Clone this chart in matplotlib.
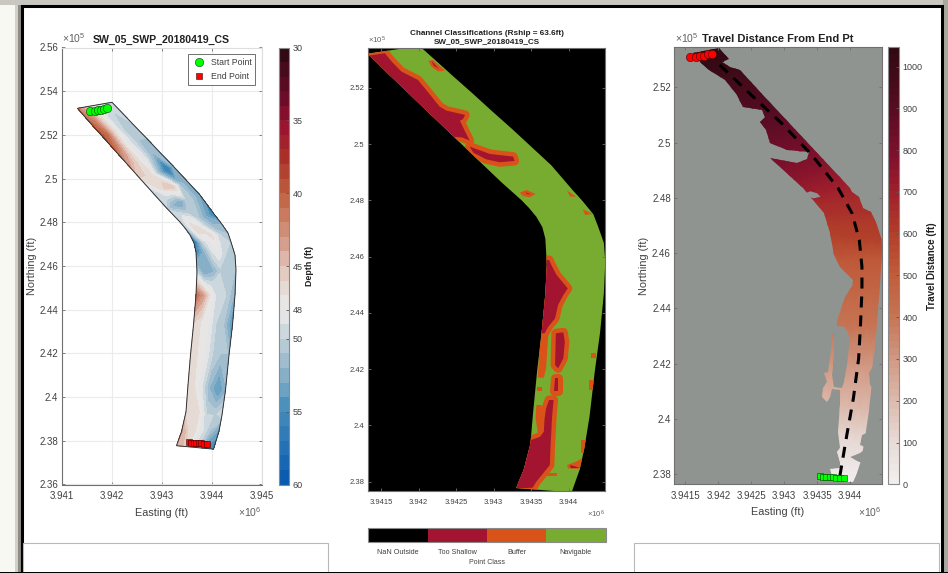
import numpy as np
import matplotlib
matplotlib.use("Agg")
import matplotlib.pyplot as plt
from matplotlib.patches import Polygon, Rectangle
from matplotlib.colors import ListedColormap, BoundaryNorm, LinearSegmentedColormap
from matplotlib.cm import ScalarMappable

plt.rcParams["font.family"] = ["Liberation Sans", "DejaVu Sans"]
plt.rcParams["mathtext.fontset"] = "custom"
plt.rcParams["mathtext.rm"] = "Liberation Sans"
plt.rcParams["mathtext.default"] = "regular"

# channel banks, easting in 1e6 ft and northing in 1e5 ft
west_e = [3.94132, 3.94157, 3.94181, 3.94207, 3.94233, 3.94257, 3.94283, 3.94311, 3.94337, 3.94347, 3.94357,
          3.94365, 3.94369, 3.94371, 3.94369, 3.94364, 3.94358, 3.94353, 3.94349, 3.94340, 3.94330]
west_n = [2.53217, 2.52558, 2.51950, 2.51281, 2.50622, 2.50005, 2.49341, 2.48632, 2.48014, 2.47739, 2.47419,
          2.47053, 2.46641, 2.45725, 2.44673, 2.43300, 2.41927, 2.40554, 2.39332, 2.38416, 2.37776]
east_e = [3.94201, 3.94221, 3.94245, 3.94271, 3.94297, 3.94325, 3.94351, 3.94377, 3.94405, 3.94419, 3.94433,
          3.94439, 3.94447, 3.94449, 3.94447, 3.94442, 3.94435, 3.94428, 3.94421, 3.94415, 3.94404]
east_n = [2.53492, 2.53016, 2.52439, 2.51826, 2.51195, 2.50531, 2.49890, 2.49249, 2.48380, 2.47968, 2.47510,
          2.47098, 2.46500, 2.45817, 2.44673, 2.43300, 2.41927, 2.40325, 2.39181, 2.38444, 2.37620]

# depth (ft), one row per bank station, west to east across the channel
depth = [
    [42, 44, 47, 48, 49, 50],
    [40, 42, 46, 49, 50, 50],
    [39, 41, 46, 49, 51, 50],
    [40, 43, 47, 49, 51, 51],
    [43, 45, 47, 49, 52, 52],
    [46, 46, 47, 52, 56, 51],
    [50, 47, 45, 45, 51, 53],
    [50, 52, 53, 50, 51, 53],
    [50, 47, 48, 51, 53, 55],
    [50, 46, 47, 50, 52, 52],
    [52, 47, 47, 47, 50, 51],
    [56, 50, 48, 47, 50, 50],
    [55, 52, 49, 48, 50, 51],
    [49, 53, 52, 50, 51, 51],
    [40, 43, 47, 50, 50, 52],
    [46, 47, 48, 50, 51, 54],
    [47, 47, 48, 50, 51, 51],
    [47, 47, 49, 52, 54, 52],
    [46, 47, 47, 50, 50, 49],
    [43, 46, 47, 49, 51, 53],
    [44, 45, 48, 50, 54, 55],
]
cross_pos = [0, 0.2, 0.4, 0.6, 0.8, 1]

# travel distance (ft) at the same stations
travel = [1046, 1020, 980, 940, 900, 860, 810, 760, 700, 670, 640, 615, 590, 520, 470, 400, 300, 200, 110, 50, 0]

start_e = [3.94157, 3.94166, 3.94172, 3.94178, 3.94184, 3.94190]
start_n = [2.5308, 2.5311, 2.5313, 2.5315, 2.5319, 2.5322]
end_e = [3.94354, 3.94359, 3.94364, 3.94369, 3.94374, 3.94379, 3.94384, 3.94390]
end_n = [2.3793, 2.3792, 2.3791, 2.3790, 2.3789, 2.3788, 2.3787, 2.3786]

route_e = [3.94202, 3.94250, 3.94296, 3.94342, 3.94382, 3.94403, 3.94414, 3.94418, 3.94418, 3.94416,
           3.94413, 3.94405, 3.94395, 3.94384]
route_n = [2.52807, 2.51721, 2.50698, 2.49551, 2.48346, 2.47441, 2.46475, 2.45509, 2.44667, 2.43520,
           2.42195, 2.40748, 2.39420, 2.37876]

# too shallow areas, these get a buffer ring around them
shallow_areas = [
    [(3.94128, 2.53055), (3.94133, 2.5315), (3.94155, 2.53233), (3.94164, 2.52936), (3.94177, 2.52581),
     (3.94199, 2.52284), (3.94210, 2.51929), (3.94228, 2.51336), (3.94237, 2.51194), (3.94262, 2.5104),
     (3.94259, 2.50886), (3.94255, 2.50838), (3.94262, 2.50447), (3.94268, 2.50127), (3.94258, 2.5024),
     (3.94242, 2.50269)],
    [(3.94268, 2.49914), (3.94295, 2.49653), (3.94326, 2.49558), (3.94328, 2.49404), (3.94308, 2.49357),
     (3.94290, 2.49463), (3.94273, 2.497)],
    [(3.94366, 2.45883), (3.94374, 2.45883), (3.94377, 2.45705), (3.94384, 2.4535), (3.94397, 2.44935),
     (3.94399, 2.44876), (3.94393, 2.44639), (3.94386, 2.44283), (3.94382, 2.43809), (3.94373, 2.43512),
     (3.94368, 2.43276), (3.94362, 2.43276)],
    [(3.94383, 2.43276), (3.94393, 2.43311), (3.94395, 2.42979), (3.94393, 2.42386), (3.94386, 2.42031),
     (3.94382, 2.42149)],
    [(3.94382, 2.41675), (3.94386, 2.41675), (3.94386, 2.41225), (3.94380, 2.41225)],
    [(3.94374, 2.40905), (3.94380, 2.40905), (3.94378, 2.40312), (3.94377, 2.39779), (3.94376, 2.39304),
     (3.94375, 2.38593), (3.94366, 2.38297), (3.94357, 2.38), (3.94352, 2.37787), (3.94330, 2.37763),
     (3.94344, 2.39423), (3.94362, 2.396), (3.94367, 2.39779), (3.94368, 2.40253), (3.94370, 2.40608)],
]
# buffer only bits
buffer_areas = [
    [(3.94213, 2.5296), (3.94219, 2.52996), (3.94235, 2.52616), (3.94226, 2.52581), (3.94217, 2.52759)],
    [(3.94335, 2.48278), (3.94344, 2.48373), (3.94356, 2.4823), (3.94348, 2.48112), (3.94339, 2.48159)],
    [(3.94398, 2.48349), (3.94410, 2.48135), (3.94402, 2.48135)],
    [(3.94419, 2.47685), (3.94432, 2.47519), (3.94422, 2.47484)],
    [(3.94373, 2.43216), (3.94370, 2.42031), (3.94367, 2.41699), (3.94359, 2.41699), (3.94362, 2.43216)],
    [(3.94357, 2.40727), (3.94364, 2.40727), (3.94366, 2.39779), (3.94359, 2.39719), (3.94356, 2.40253)],
    [(3.94358, 2.41367), (3.94365, 2.41367), (3.94365, 2.41225), (3.94358, 2.41225)],
    [(3.94430, 2.42564), (3.94437, 2.42564), (3.94437, 2.4241), (3.94430, 2.4241)],
    [(3.94427, 2.41616), (3.94435, 2.41616), (3.94435, 2.4126), (3.94427, 2.4126)],
    [(3.94417, 2.39482), (3.94427, 2.39482), (3.94427, 2.39008), (3.94417, 2.39008)],
    [(3.94398, 2.38593), (3.94410, 2.38712), (3.94422, 2.38889), (3.94420, 2.38652), (3.94413, 2.38451),
     (3.94399, 2.38474)],
    [(3.94370, 2.38297), (3.94384, 2.38297), (3.94384, 2.38214), (3.94370, 2.38214)],
]
# maroon cores in the small buffer bits
shallow_cores = [
    [(3.94217, 2.5296), (3.94227, 2.52676), (3.94220, 2.52794)],
    [(3.94342, 2.4829), (3.94350, 2.48219), (3.94345, 2.48225)],
    [(3.94402, 2.38593), (3.94415, 2.38498), (3.94403, 2.3848)],
]

# part of the channel that is reachable, right panel
reach_outline = [
    (3.94162, 2.5323), (3.94201, 2.53435), (3.94216, 2.53013), (3.94205, 2.52929), (3.94217, 2.52748),
    (3.94233, 2.52627), (3.94268, 2.51723), (3.94400, 2.48346), (3.94403, 2.48225), (3.94413, 2.48044),
    (3.94420, 2.47622), (3.94431, 2.47502), (3.94446, 2.46838), (3.94448, 2.46477), (3.94448, 2.45994),
    (3.94446, 2.44848), (3.94438, 2.42557), (3.94433, 2.41833), (3.94428, 2.41653), (3.94430, 2.4123),
    (3.94433, 2.4117), (3.94431, 2.40386), (3.94428, 2.39542), (3.94418, 2.39422), (3.94415, 2.3906),
    (3.94425, 2.38939), (3.94415, 2.38758), (3.94400, 2.38638), (3.94413, 2.38457), (3.94418, 2.38396),
    (3.94405, 2.37733), (3.94375, 2.37733), (3.94370, 2.38191), (3.94385, 2.38215), (3.94385, 2.38457),
    (3.94380, 2.38818), (3.94384, 2.38939), (3.94381, 2.39542), (3.94384, 2.40507), (3.94385, 2.4105),
    (3.94372, 2.41074), (3.94369, 2.40808), (3.94365, 2.40603), (3.94357, 2.40808), (3.94359, 2.4111),
    (3.94365, 2.41351), (3.94360, 2.41653), (3.94367, 2.41713), (3.94371, 2.42436), (3.94372, 2.43039),
    (3.94375, 2.431), (3.94376, 2.42436), (3.94372, 2.41592), (3.94375, 2.4117), (3.94387, 2.41134),
    (3.94390, 2.41351), (3.94395, 2.41954), (3.94400, 2.42919), (3.94393, 2.43341), (3.94380, 2.43377),
    (3.94382, 2.43642), (3.94393, 2.44426), (3.94405, 2.44848), (3.94403, 2.44668), (3.94405, 2.4503),
    (3.94385, 2.45512), (3.94375, 2.45934), (3.94370, 2.46718), (3.94360, 2.47441), (3.94329, 2.48346),
    (3.94278, 2.49431), (3.94319, 2.49274), (3.94334, 2.49395), (3.94337, 2.49672), (3.94304, 2.49733),
    (3.94278, 2.49974), (3.94273, 2.50456), (3.94263, 2.50758), (3.94271, 2.50939), (3.94266, 2.5118),
    (3.94238, 2.513), (3.94228, 2.51723), (3.94210, 2.52265), (3.94185, 2.52627), (3.94174, 2.52868),
]
reach_hole = [(3.94331, 2.48165), (3.94340, 2.48238), (3.94350, 2.48165), (3.94355, 2.48044), (3.94345, 2.47984),
              (3.94335, 2.48044)]

depth_ticks = [30, 35, 40, 45, 48, 50, 55, 60]
travel_ticks = [0, 100, 200, 300, 400, 500, 600, 700, 800, 900, 1000]
class_names = ["NaN Outside", "Too Shallow", "Buffer", "Navigable"]
class_colors = ["#000000", "#A2142F", "#D95319", "#77AC30"]

depth_cmap = LinearSegmentedColormap.from_list("depth", [
    (0.0, "#330a14"), (0.1, "#6a0c2a"), (0.17, "#9a1430"), (0.25, "#ac3228"), (0.33, "#c0603f"),
    (0.45, "#d6a08e"), (0.5, "#e3c3b8"), (0.58, "#e8e6e4"), (0.62, "#e2e4e6"), (0.67, "#c4d2da"),
    (0.78, "#78a8c4"), (0.83, "#4a90bc"), (1.0, "#0a5cb2")]).resampled(30)
travel_cmap = LinearSegmentedColormap.from_list("travel", [
    (0.0, "#f2eeee"), (0.1, "#e6d8d4"), (0.19, "#dcb9ac"), (0.29, "#cf9680"), (0.38, "#c67555"),
    (0.48, "#c05c3a"), (0.57, "#b2402a"), (0.67, "#a0202c"), (0.76, "#7e102c"), (0.86, "#5a0c24"),
    (1.0, "#300a12")]).resampled(64)

W, H = 948, 573
TXT = "#404040"
fig = plt.figure(figsize=(W / 100, H / 100), dpi=100, facecolor="white")


def px_axes(l, t, r, b):
    return fig.add_axes([l / W, 1 - b / H, (r - l) / W, (b - t) / H])


# window frame and shadow
bg = fig.add_axes([0, 0, 1, 1], zorder=-5)
bg.set_xlim(0, W)
bg.set_ylim(H, 0)
bg.axis("off")
bg.add_patch(Rectangle((0, 0), 20, H, color="#f8f8f2", lw=0))
bg.add_patch(Rectangle((15, 4), 3, H, color="#d0d0c8", lw=0))
bg.add_patch(Rectangle((18, 4), 3, H, color="#8c8c84", lw=0))
bg.add_patch(Rectangle((0, 0), W, 5, color="#c8c8c0", lw=0))
bg.add_patch(Rectangle((943, 0), 5, H, color="#a8a8a0", lw=0))
bg.add_patch(Rectangle((22, 6), 920, H, fc="white", ec="black", lw=2.2))
bg.add_patch(Rectangle((23.5, 543), 304.5, 40, fc="white", ec="#b8b8b8", lw=0.8))
bg.add_patch(Rectangle((634.5, 543), 304.5, 40, fc="white", ec="#b8b8b8", lw=0.8))
bg.add_patch(Rectangle((0, 571.5), W, 2, color="black", lw=0))


def style_axes(ax, size, spine="#707070", top_right=None):
    ax.tick_params(direction="in", length=2.5, width=0.6, color=spine, labelcolor=TXT, labelsize=size,
                   pad=2.5, top=True, right=True)
    ax.tick_params(axis="x", pad=5)
    for name, s in ax.spines.items():
        s.set_linewidth(0.8)
        s.set_color(top_right if (top_right and name in ("top", "right")) else spine)


def style_cbar(cb, size):
    cb.ax.tick_params(direction="in", length=2.5, width=0.6, color="#555555", labelcolor=TXT, labelsize=size, pad=2.5)
    cb.outline.set_edgecolor("#8a8a8a")
    cb.outline.set_linewidth(0.8)


we, wn, ee, en = map(np.array, (west_e, west_n, east_e, east_n))
frac = np.array(cross_pos)[None, :]
mesh_e = we[:, None] + (ee - we)[:, None] * frac
mesh_n = wn[:, None] + (en - wn)[:, None] * frac
channel_xy = np.column_stack([np.r_[we, ee[::-1]], np.r_[wn, en[::-1]]])

y_major = [2.36, 2.38, 2.40, 2.42, 2.44, 2.46, 2.48, 2.50, 2.52, 2.54, 2.56]
y_short = [2.38, 2.40, 2.42, 2.44, 2.46, 2.48, 2.50, 2.52]
x_short = [3.9415, 3.942, 3.9425, 3.943, 3.9435, 3.944]

# left panel, depth
ax1 = px_axes(61.5, 47.5, 261.5, 484.5)
cs = ax1.contourf(mesh_e, mesh_n, np.array(depth), levels=np.arange(30, 61), cmap=depth_cmap)
ax1.add_patch(Polygon(channel_xy, fill=False, ec="#303030", lw=0.7))
h1, = ax1.plot(start_e, start_n, "o", ms=6, mfc="#00ff00", mec="#084008", mew=0.4, label="Start Point")
h2, = ax1.plot(end_e, end_n, "s", ms=5, mfc="#ff0000", mec="#400808", mew=0.4, label="End Point")
ax1.set_xlim(3.941, 3.945)
ax1.set_ylim(2.36, 2.56)
ax1.set_xticks([3.941, 3.942, 3.943, 3.944, 3.945])
ax1.set_xticklabels(["3.941", "3.942", "3.943", "3.944", "3.945"])
ax1.set_yticks(y_major)
ax1.set_yticklabels([f"{v:g}" for v in y_major])
ax1.grid(True, color="#ebebeb", lw=0.8)
ax1.set_axisbelow(True)
style_axes(ax1, 7, top_right="#dddddd")
ax1.set_xlabel("Easting (ft)", fontsize=7.8, color=TXT, labelpad=4.5)
ax1.set_ylabel("Northing (ft)", fontsize=7.8, color=TXT, labelpad=1.5)
ax1.set_title("SW_05_SWP_20180419_CS", fontsize=7.6, fontweight="bold", color="#202020", pad=3.5, x=0.497)
leg = ax1.legend(handles=[h1, h2], loc="upper left", bbox_to_anchor=(0.634, 0.985), borderaxespad=0, fontsize=6.3,
                 fancybox=False, framealpha=1, edgecolor="#707070", numpoints=1, handlelength=1.6, handletextpad=0.5,
                 borderpad=0.45, labelspacing=0.6, labelcolor=TXT)
leg.get_frame().set_linewidth(0.7)
cax1 = px_axes(278.7, 47.5, 289, 484.5)
cb1 = fig.colorbar(cs, cax=cax1, ticks=depth_ticks)
cax1.invert_yaxis()
cb1.ax.set_yticklabels([str(v) for v in depth_ticks])
style_cbar(cb1, 6.5)
fig.text(310 / W, 1 - 266 / H, "Depth (ft)", rotation=90, fontsize=6.4, fontweight="bold", color="#202020",
         ha="center", va="center")

# middle panel, classes
ax2 = px_axes(367.7, 47.7, 605.3, 491)
ax2.set_facecolor("black")
ax2.set_xlim(3.94132, 3.94449)
ax2.set_ylim(2.3767, 2.5343)
channel = Polygon(channel_xy, fc=class_colors[3], ec="none")
ax2.add_patch(channel)
for area in buffer_areas:
    p = Polygon(area, fc=class_colors[2], ec="none", zorder=3)
    ax2.add_patch(p)
    p.set_clip_path(channel)
for area in shallow_areas:
    p = Polygon(area, fc=class_colors[2], ec=class_colors[2], lw=6.5, joinstyle="round", zorder=3)
    ax2.add_patch(p)
    p.set_clip_path(channel)
for area in shallow_areas + shallow_cores:
    p = Polygon(area, fc=class_colors[1], ec="none", zorder=4)
    ax2.add_patch(p)
    p.set_clip_path(channel)
ax2.set_xticks(x_short)
ax2.set_xticklabels([f"{v:g}" for v in x_short])
ax2.set_yticks(y_short)
ax2.set_yticklabels([f"{v:g}" for v in y_short])
style_axes(ax2, 5.5)
ax2.tick_params(pad=6, axis="x")
ax2.tick_params(pad=2.5, axis="y")
ax2.set_title("Channel Classifications (Rship = 63.6ft)\nSW_05_SWP_20180419_CS", fontsize=5.9, fontweight="bold",
              color="#202020", pad=3, linespacing=1.35)
cax2 = px_axes(368.3, 528.3, 605.5, 542)
sm = ScalarMappable(norm=BoundaryNorm([0, 1, 2, 3, 4], 4), cmap=ListedColormap(class_colors))
cb2 = fig.colorbar(sm, cax=cax2, orientation="horizontal", ticks=[0.5, 1.5, 2.5, 3.5])
cb2.ax.set_xticklabels(class_names)
style_cbar(cb2, 5.2)
cb2.ax.tick_params(pad=5, length=0)
cb2.ax.minorticks_off()
fig.text(486.5 / W, 1 - 563 / H, "Point Class", fontsize=5, color=TXT, ha="center", va="center")

# right panel, travel distance
ax3 = px_axes(674.3, 47.3, 881.7, 484.3)
ax3.set_facecolor("#909490")
ax3.set_xlim(3.94133, 3.94448)
ax3.set_ylim(2.3764, 2.53447)
travel_grid = np.repeat(np.array(travel, dtype=float)[:, None], len(cross_pos), axis=1)
qm = ax3.pcolormesh(mesh_e, mesh_n, travel_grid, shading="gouraud", cmap=travel_cmap, vmin=0, vmax=1046)
qm.set_clip_path(Polygon(reach_outline, transform=ax3.transData))
ax3.add_patch(Polygon(reach_hole, fc="#909490", ec="none", zorder=3))
ax3.plot(route_e, route_n, color="black", lw=2.2, dashes=(3.6, 2.6), zorder=4)
ax3.plot(end_e, end_n, "s", ms=5, mfc="#00ff00", mec="#084008", mew=0.4, zorder=5)
ax3.plot(start_e, start_n, "o", ms=6, mfc="#ff0000", mec="#400808", mew=0.4, zorder=5)
ax3.set_xticks(x_short)
ax3.set_xticklabels([f"{v:g}" for v in x_short])
ax3.set_yticks(y_short)
ax3.set_yticklabels([f"{v:g}" for v in y_short])
style_axes(ax3, 7)
ax3.set_xlabel("Easting (ft)", fontsize=7.8, color=TXT, labelpad=4.5)
ax3.set_ylabel("Northing (ft)", fontsize=7.8, color=TXT, labelpad=2)
ax3.set_title("Travel Distance From End Pt", fontsize=8, fontweight="bold", color="#202020", pad=3.5)
cax3 = px_axes(888.3, 47.3, 899.3, 484.3)
cb3 = fig.colorbar(qm, cax=cax3, ticks=travel_ticks)
style_cbar(cb3, 6.5)
fig.text(932 / W, 1 - 266 / H, "Travel Distance (ft)", rotation=90, fontsize=7, fontweight="bold", color="#202020",
         ha="center", va="center")

# MATLAB style axis exponents
for x, y, s, size, ha in [(62, 43, r"$\times10^{5}$", 7.5, "left"), (261, 517, r"$\times10^{6}$", 7.5, "right"),
                          (368, 44, r"$\times10^{5}$", 5.6, "left"), (605, 518, r"$\times10^{6}$", 5.6, "right"),
                          (675, 43, r"$\times10^{5}$", 7.5, "left"), (881, 517, r"$\times10^{6}$", 7.5, "right")]:
    fig.text(x / W, 1 - y / H, s, fontsize=size, color="#606060", ha=ha, va="baseline")

fig.savefig("out.png", dpi=100)
